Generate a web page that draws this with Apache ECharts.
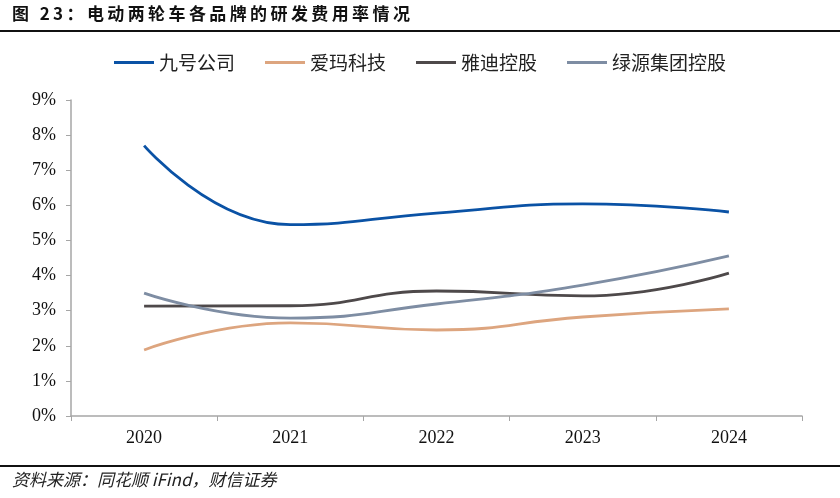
<!DOCTYPE html>
<html><head><meta charset="utf-8">
<script src="https://cdn.jsdelivr.net/npm/echarts@6/dist/echarts.min.js"></script>
<style>html,body{margin:0;padding:0;background:#fff}#c{width:840px;height:498px}</style>
</head><body><div id="c"></div>
<script>
const categories = ['2020','2021','2022','2023','2024'];
const ninebot = [7.70, 5.45, 5.78, 6.04, 5.81];
const aima = [1.88, 2.65, 2.45, 2.82, 3.05];
const yadea = [3.13, 3.14, 3.56, 3.42, 4.07];
const luyuan = [3.50, 2.79, 3.19, 3.73, 4.56];
const seriesNames = ['九号公司','爱玛科技','雅迪控股','绿源集团控股'];
const colors = ['#0A52A5','#DDA57F','#4E494A','#7E8DA3'];
const titleText = '图 23：电动两轮车各品牌的研发费用率情况';
const sourceText = '资料来源：同花顺 iFind，财信证券';

const spaced = s => s.split('').join('\u2009');
const chart = echarts.init(document.getElementById('c'));
const dataSets = [ninebot, aima, yadea, luyuan];
chart.setOption({
  animation: false,
  color: colors,
  graphic: [
    {type:'text', left: 12, top: 5, style:{text: spaced(titleText), font:'bold 17px "Noto Sans CJK SC"', fill:'#111'}},
    {type:'rect', shape:{x:0,y:30,width:840,height:2}, style:{fill:'#111'}},
    {type:'rect', shape:{x:0,y:465,width:840,height:2}, style:{fill:'#111'}},
    {type:'text', left: 12, top: 471, style:{text: sourceText, font:'italic 17px "Noto Sans CJK SC"', fill:'#222'}}
  ],
  legend: {
    top: 48, left: 'center',
    itemWidth: 40, itemHeight: 3, itemGap: 30,
    icon: 'rect',
    textStyle: {fontSize: 19, color:'#222', fontFamily:'"Noto Sans CJK SC"'},
    data: seriesNames
  },
  grid: {left: 71, right: 38, top: 100, bottom: 82},
  xAxis: {
    type: 'category', data: categories, boundaryGap: true,
    axisLine: {lineStyle:{color:'#A6A6A6', width:1.5}},
    axisTick: {show:true, length:5, lineStyle:{color:'#A6A6A6'}},
    axisLabel: {fontSize: 18, color:'#111', margin: 13, fontFamily:'"Liberation Serif"'}
  },
  yAxis: {
    type: 'value', min: 0, max: 9, interval: 1,
    axisLine: {show:true, lineStyle:{color:'#A6A6A6', width:1.5}},
    axisTick: {show:true, length:5, inside:false, lineStyle:{color:'#A6A6A6'}},
    splitLine: {show:false},
    axisLabel: {fontSize: 18, color:'#111', margin: 15, fontFamily:'"Liberation Serif"', formatter: v => v + '%'}
  },
  series: seriesNames.map((n,i)=>({
    name: n, type: 'line', data: dataSets[i], smooth: 0.5,
    showSymbol: false, lineStyle: {width: 2.8, color: colors[i]}
  }))
});
</script></body></html>
